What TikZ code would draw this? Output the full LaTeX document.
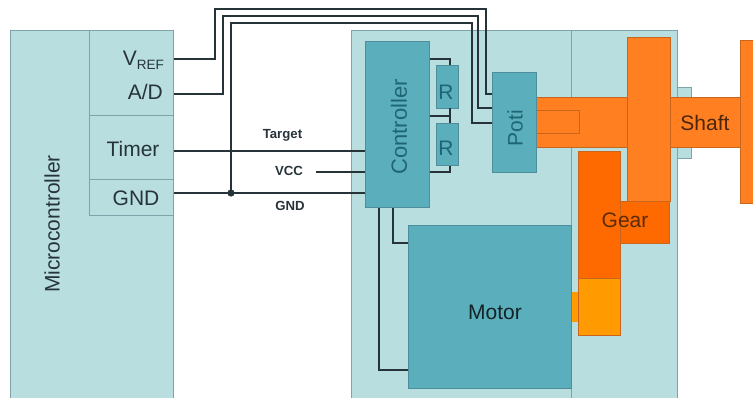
\documentclass[tikz,border=0pt]{standalone}
\usepackage{fontspec}
\setmainfont{Liberation Sans}
\definecolor{lightteal}{HTML}{B8DEE0}
\definecolor{teal1}{HTML}{5BAEBB}
\definecolor{edge1}{HTML}{7FA3AB}
\definecolor{edge2}{HTML}{4F8D9A}
\definecolor{orange1}{HTML}{FF7F21}
\definecolor{orange2}{HTML}{FF6A00}
\definecolor{orange3}{HTML}{FF9A00}
\definecolor{edge3}{HTML}{C8661E}
\definecolor{ink}{HTML}{26343A}
\definecolor{tealink}{HTML}{1F6675}
\tikzset{
  x=1pt,y=1pt,
  lightbox/.style={draw=edge1,fill=lightteal,line width=1pt,rectangle,inner sep=0pt,anchor=north west},
  tealbox/.style={draw=edge2,fill=teal1,line width=.6pt,rectangle,inner sep=0pt,anchor=north west},
  orangebox/.style={draw=edge3,line width=.6pt,rectangle,inner sep=0pt,anchor=north west},
  wire/.style={draw=ink,line width=1.9pt,line join=miter},
  lab/.style={font=\fontsize{21}{24}\selectfont,text=ink,inner sep=0pt},
  small/.style={font=\fontsize{13.2}{15}\selectfont\bfseries,text=ink,inner sep=0pt},
}
\newcommand{\bx}[7]{\node[#1,minimum width=#5-#3,minimum height=#6-#4,#7] (#2) at (#3,-#4) {};}
\begin{document}
\begin{tikzpicture}
\useasboundingbox (0,0) rectangle (753,-398);
\fill[white] (0,0) rectangle (753,-398);
% microcontroller
\bx{lightbox}{mcu}{10}{30}{173}{398}{}
\bx{lightbox}{portA}{89}{30}{173}{115}{}
\bx{lightbox}{portT}{89}{115}{173}{179}{}
\bx{lightbox}{portG}{89}{179}{173}{215}{}
% housing
\bx{lightbox}{houseL}{351}{30}{571}{398}{}
\bx{lightbox}{houseR}{571}{30}{677}{398}{}
\bx{lightbox}{bearT}{677}{87}{691}{100}{}
\bx{lightbox}{bearB}{677}{144}{691}{158}{}
% shaft and gears
\bx{orangebox}{shaftL}{536}{97}{627}{147}{fill=orange1}
\bx{orangebox}{poticore}{536}{110}{579}{133}{fill=orange1}
\bx{orangebox}{shaftR}{670}{97}{740}{147}{fill=orange1}
\bx{orangebox}{wheel}{627}{37}{670}{201}{fill=orange1}
\bx{orangebox}{gearB}{620}{201}{669}{243}{fill=orange2}
\bx{orangebox}{gearA}{578}{151}{620}{278}{fill=orange2}
\bx{orangebox}{pinion}{578}{278}{620}{335}{fill=orange3}
\node[fill=orange3,inner sep=0pt,minimum width=7,minimum height=30,anchor=north west] (axle) at (571,-292) {};
\bx{orangebox}{load}{740}{40}{753}{203}{fill=orange1}
% electrical blocks
\bx{tealbox}{motor}{408}{225}{571}{388}{}
\bx{tealbox}{ctrl}{365}{41}{429}{207}{}
\bx{tealbox}{r1}{436}{65}{458}{108}{}
\bx{tealbox}{r2}{436}{123}{458}{165}{}
\bx{tealbox}{poti}{492}{72}{536}{172}{}
% wires
\draw[wire] (portA.east |- 0,-59) -| (215,-9) -| (486,-94) -- (poti.west |- 0,-94);
\draw[wire] (portA.east |- 0,-94) -| (223,-16) -| (478,-108) -- (poti.west |- 0,-108);
\draw[wire] (231,-193) |- (472,-23) |- (poti.west |- 0,-123);
\draw[wire] (portT.east |- 0,-151) -- (ctrl.west |- 0,-151);
\coordinate (vccEnd) at (316,-172);
\draw[wire] (vccEnd) -- (ctrl.west |- 0,-172);
\draw[wire] (portG.east |- 0,-193) -- (ctrl.west |- 0,-193);
\fill[ink] (231,-193) circle (3.6);
\draw[wire] (ctrl.east |- 0,-59) -| (r1.north -| 450,0);
\draw[wire] (ctrl.east |- 0,-116) -- (450,-116);
\draw[wire] (450,-108) -- (450,-123);
\draw[wire] (ctrl.east |- 0,-172) -| (r2.south -| 450,0);
\draw[wire] (ctrl.south -| 393,0) |- (motor.west |- 0,-243);
\draw[wire] (ctrl.south -| 379,0) |- (motor.west |- 0,-370);
% labels
\node[lab,rotate=90] (tMcu) at (52,-224) {Microcontroller};
\node[lab,anchor=base east] (tVref) at (164,-66) {V\raisebox{-3.5pt}{\fontsize{13.5}{15}\selectfont REF}};
\node[lab,anchor=base east] (tAD) at (163,-100) {A/D};
\node[lab] (tTimer) at (133,-149) {Timer};
\node[lab] (tGnd) at (136,-198) {GND};
\node[small] (tTarget) at (282.5,-135) {Target};
\node[small] (tVcc) at (289,-171) {VCC};
\node[small] (tGnd2) at (290,-206) {GND};
\node[lab,rotate=90,font=\fontsize{22}{24}\selectfont,text=tealink] (tCtrl) at (399,-127) {Controller};
\node[lab,text=tealink] (tR1) at (446,-92) {R};
\node[lab,text=tealink] (tR2) at (446,-148) {R};
\node[lab,rotate=90,text=tealink] (tPoti) at (515,-128) {Poti};
\node[lab,text=black!70!orange1] (tShaft) at (705,-123) {Shaft};
\node[lab,text=black!65!orange1] (tGear) at (625,-220) {Gear};
\node[lab,text=black!80!teal1] (tMotor) at (495,-312) {Motor};
\end{tikzpicture}
\end{document}
